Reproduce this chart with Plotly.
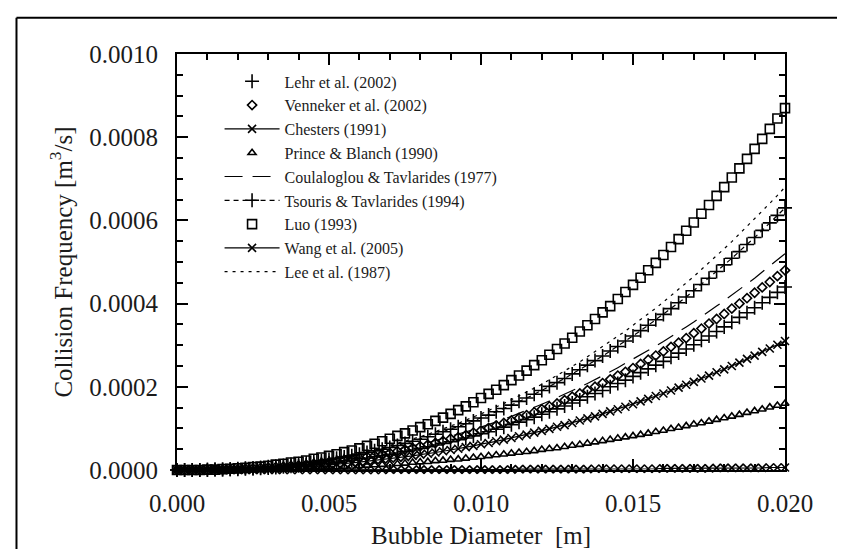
import plotly.graph_objects as go

# Bubble diameter [m]
diameter_m = [
    0.0, 0.00025, 0.0005, 0.00075, 0.001, 0.00125, 0.0015, 0.00175, 0.002, 0.00225,
    0.0025, 0.00275, 0.003, 0.00325, 0.0035, 0.00375, 0.004, 0.00425, 0.0045, 0.00475,
    0.005, 0.00525, 0.0055, 0.00575, 0.006, 0.00625, 0.0065, 0.00675, 0.007, 0.00725,
    0.0075, 0.00775, 0.008, 0.00825, 0.0085, 0.00875, 0.009, 0.00925, 0.0095, 0.00975,
    0.01, 0.01025, 0.0105, 0.01075, 0.011, 0.01125, 0.0115, 0.01175, 0.012, 0.01225,
    0.0125, 0.01275, 0.013, 0.01325, 0.0135, 0.01375, 0.014, 0.01425, 0.0145, 0.01475,
    0.015, 0.01525, 0.0155, 0.01575, 0.016, 0.01625, 0.0165, 0.01675, 0.017, 0.01725,
    0.0175, 0.01775, 0.018, 0.01825, 0.0185, 0.01875, 0.019, 0.01925, 0.0195, 0.01975,
    0.02,
]

# Collision frequency, in units of 1e-6 m^3/s
lehr = [
    0, 0, 0, 0, 0, 1, 1, 2, 2, 3,
    3, 4, 5, 6, 8, 9, 10, 12, 14, 15,
    17, 19, 22, 24, 27, 29, 32, 35, 38, 41,
    45, 48, 52, 56, 60, 64, 68, 73, 77, 82,
    87, 92, 98, 103, 109, 115, 121, 127, 134, 140,
    147, 154, 161, 168, 176, 184, 191, 200, 208, 216,
    225, 234, 243, 252, 261, 271, 281, 291, 301, 312,
    322, 333, 344, 355, 367, 378, 390, 402, 415, 427,
    440,
]
venneker = [
    0, 0, 0, 0, 0, 1, 1, 2, 2, 3,
    4, 5, 6, 7, 8, 10, 11, 13, 15, 17,
    19, 21, 24, 26, 29, 32, 35, 38, 41, 45,
    49, 53, 57, 61, 65, 70, 75, 79, 84, 90,
    95, 101, 107, 113, 119, 125, 132, 139, 146, 153,
    160, 168, 176, 184, 192, 200, 209, 218, 227, 236,
    245, 255, 265, 275, 285, 296, 306, 317, 329, 340,
    352, 363, 375, 388, 400, 413, 426, 439, 452, 466,
    480,
]
chesters = [
    0, 0, 0, 0, 0, 0, 0, 0, 0, 0,
    0, 0, 0, 0, 0, 0, 0, 0, 0, 0,
    0, 0, 0, 0, 0, 0, 0, 0, 1, 1,
    1, 1, 1, 1, 1, 1, 1, 1, 1, 1,
    1, 1, 1, 1, 1, 2, 2, 2, 2, 2,
    2, 2, 2, 2, 2, 3, 3, 3, 3, 3,
    3, 3, 3, 3, 4, 4, 4, 4, 4, 4,
    4, 5, 5, 5, 5, 5, 5, 5, 6, 6,
    6,
]
prince = [
    0, 0, 0, 0, 0, 0, 0, 1, 1, 1,
    1, 2, 2, 2, 3, 3, 4, 4, 5, 6,
    6, 7, 8, 9, 10, 11, 12, 13, 14, 15,
    16, 18, 19, 20, 22, 23, 25, 26, 28, 30,
    32, 34, 36, 38, 40, 42, 44, 46, 49, 51,
    53, 56, 59, 61, 64, 67, 70, 73, 76, 79,
    82, 85, 88, 92, 95, 99, 102, 106, 110, 113,
    117, 121, 125, 129, 133, 138, 142, 146, 151, 155,
    160,
]
coulaloglou = [
    0, 0, 0, 0, 0, 1, 1, 2, 2, 3,
    4, 5, 6, 7, 9, 10, 12, 14, 16, 18,
    20, 23, 26, 28, 31, 34, 38, 41, 45, 49,
    53, 57, 61, 66, 71, 76, 81, 86, 92, 97,
    103, 109, 116, 122, 129, 136, 143, 150, 158, 166,
    174, 182, 190, 199, 208, 217, 226, 236, 246, 256,
    266, 276, 287, 298, 309, 320, 332, 344, 356, 368,
    381, 394, 407, 420, 433, 447, 461, 476, 490, 505,
    520,
]
tsouris = [
    0, 0, 0, 0, 1, 1, 1, 2, 3, 4,
    5, 6, 8, 9, 11, 13, 15, 17, 19, 22,
    25, 28, 31, 34, 38, 42, 46, 50, 54, 59,
    64, 69, 74, 80, 86, 92, 98, 104, 111, 118,
    125, 132, 140, 148, 156, 165, 173, 182, 191, 201,
    210, 220, 231, 241, 252, 263, 274, 286, 297, 310,
    322, 335, 348, 361, 374, 388, 402, 416, 431, 446,
    461, 477, 493, 509, 525, 542, 559, 576, 594, 612,
    630,
]
luo = [
    0, 0, 0, 0, 1, 1, 2, 3, 4, 5,
    7, 8, 10, 13, 15, 18, 20, 23, 27, 30,
    34, 38, 43, 47, 52, 58, 63, 69, 75, 82,
    88, 95, 103, 110, 118, 126, 135, 144, 153, 163,
    173, 183, 193, 204, 216, 227, 239, 252, 264, 277,
    291, 304, 318, 333, 348, 363, 379, 394, 411, 428,
    445, 462, 480, 498, 517, 536, 555, 575, 595, 616,
    637, 659, 680, 703, 725, 748, 772, 796, 820, 845,
    870,
]
wang = [
    0, 0, 0, 0, 0, 0, 1, 1, 1, 2,
    2, 3, 4, 4, 5, 6, 7, 8, 10, 11,
    12, 14, 15, 17, 19, 21, 23, 25, 27, 29,
    31, 34, 37, 39, 42, 45, 48, 51, 55, 58,
    62, 65, 69, 73, 77, 81, 85, 90, 94, 99,
    104, 108, 113, 119, 124, 129, 135, 141, 146, 152,
    158, 165, 171, 178, 184, 191, 198, 205, 212, 220,
    227, 235, 242, 250, 258, 267, 275, 284, 292, 301,
    310,
]
lee = [
    0, 0, 0, 0, 1, 1, 2, 2, 3, 4,
    5, 7, 8, 10, 12, 14, 16, 18, 21, 24,
    27, 30, 33, 37, 41, 45, 49, 54, 59, 64,
    69, 74, 80, 86, 92, 99, 106, 112, 120, 127,
    135, 143, 151, 160, 169, 178, 187, 197, 206, 217,
    227, 238, 249, 260, 272, 284, 296, 308, 321, 334,
    348, 361, 375, 389, 404, 419, 434, 450, 465, 482,
    498, 515, 532, 549, 567, 585, 603, 622, 641, 660,
    680,
]

series_names = [
    "Lehr et al. (2002)",
    "Venneker et al. (2002)",
    "Chesters (1991)",
    "Prince & Blanch (1990)",
    "Coulaloglou & Tavlarides (1977)",
    "Tsouris & Tavlarides (1994)",
    "Luo (1993)",
    "Wang et al. (2005)",
    "Lee et al. (1987)",
]
series_values = [lehr, venneker, chesters, prince, coulaloglou, tsouris, luo, wang, lee]

y_tickvals = [0, 200, 400, 600, 800, 1000]
y_ticktext = ["0.0000", "0.0002", "0.0004", "0.0006", "0.0008", "0.0010"]
x_tickvals = [0.0, 0.005, 0.01, 0.015, 0.02]
x_ticktext = ["0.000", "0.005", "0.010", "0.015", "0.020"]

styles = [
    dict(mode="markers", marker=dict(symbol="cross-thin-open", size=10)),
    dict(mode="markers", marker=dict(symbol="diamond-open", size=7)),
    dict(mode="lines+markers", marker=dict(symbol="x-thin-open", size=8), line=dict(width=1.2)),
    dict(mode="markers", marker=dict(symbol="triangle-up-open", size=7)),
    dict(mode="lines", line=dict(width=1.2, dash="18px,10px")),
    dict(mode="lines+markers", marker=dict(symbol="cross-thin-open", size=10), line=dict(width=1.2, dash="5px,4px")),
    dict(mode="markers", marker=dict(symbol="square-open", size=9)),
    dict(mode="lines+markers", marker=dict(symbol="x-thin-open", size=8), line=dict(width=1.2)),
    dict(mode="lines", line=dict(width=1.2, dash="3px,5px")),
]

fig = go.Figure()
for name, vals, st in zip(series_names, series_values, styles):
    marker = st.get("marker", {})
    if marker:
        marker = dict(marker, color="black", line=dict(color="black", width=1.6))
    line = dict(st.get("line", {}), color="black")
    fig.add_trace(go.Scatter(
        x=diameter_m, y=vals, name=name, mode=st["mode"],
        marker=marker if marker else None, line=line, cliponaxis=False,
    ))

font_family = "Liberation Serif"
text_color = "#1b1b1b"

axis_common = dict(
    showline=True, linewidth=2, linecolor="black", mirror="ticks",
    ticks="inside", ticklen=11, tickwidth=1.5, tickcolor="black",
    showgrid=False, zeroline=False,
    tickfont=dict(family=font_family, size=25, color=text_color),
)

fig.update_layout(
    width=845, height=549,
    margin=dict(l=169, r=68, t=46, b=79),
    paper_bgcolor="white", plot_bgcolor="white",
    font=dict(family=font_family, color=text_color),
    showlegend=True,
    legend=dict(
        x=0.07, y=0.975, xanchor="left", yanchor="top",
        bgcolor="rgba(0,0,0,0)", borderwidth=0,
        font=dict(family=font_family, size=16, color=text_color),
        itemwidth=55, tracegroupgap=0,
    ),
    xaxis=dict(
        axis_common, range=[0, 0.02],
        tickmode="array", tickvals=x_tickvals, ticktext=x_ticktext,
        minor=dict(ticks="inside", ticklen=6, tickwidth=1.5, tickcolor="black",
                   tickmode="linear", tick0=0, dtick=0.001),
        ticklabelstandoff=10,
        title=dict(text="Bubble Diameter  [m]", standoff=10,
                   font=dict(family=font_family, size=25, color=text_color)),
    ),
    yaxis=dict(
        axis_common, range=[0, 1000],
        tickmode="array", tickvals=y_tickvals, ticktext=y_ticktext,
        minor=dict(ticks="inside", ticklen=6, tickwidth=1.5, tickcolor="black",
                   tickmode="linear", tick0=0, dtick=50),
        ticklabelstandoff=12,
        title=dict(text="Collision Frequency [m<sup>3</sup>/s]", standoff=10,
                   font=dict(family=font_family, size=25, color=text_color)),
    ),
    shapes=[
        dict(type="line", xref="paper", yref="paper", x0=-0.264, x1=1.125, y0=1.087, y1=1.087,
             line=dict(color="black", width=2)),
        dict(type="line", xref="paper", yref="paper", x0=-0.264, x1=-0.264, y0=1.087, y1=-0.25,
             line=dict(color="black", width=2)),
        dict(type="line", xref="paper", yref="paper", x0=1.1085, x1=1.1085, y0=1.087, y1=-0.25,
             line=dict(color="black", width=2)),
    ],
)

fig.write_html("out.html")
